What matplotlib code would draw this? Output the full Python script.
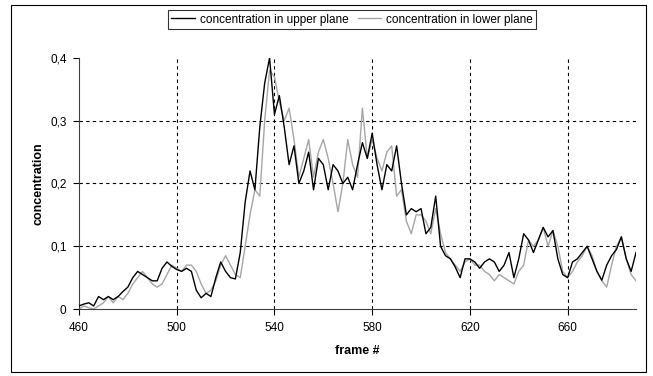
import numpy as np
import matplotlib
matplotlib.use("Agg")
from matplotlib import pyplot as plt
from matplotlib.patches import Rectangle

plt.rcParams['font.family'] = ['Liberation Sans', 'DejaVu Sans']

frames = np.arange(460, 689, 2)

upper = [0.005, 0.008, 0.01, 0.005, 0.02, 0.015, 0.02, 0.015, 0.02, 0.028,
         0.035, 0.05, 0.06, 0.055, 0.05, 0.045, 0.045, 0.065, 0.075, 0.068,
         0.063, 0.06, 0.065, 0.06, 0.03, 0.018, 0.025, 0.02, 0.05, 0.075,
         0.06, 0.05, 0.048, 0.09, 0.17, 0.22, 0.19, 0.29, 0.36, 0.40,
         0.31, 0.34, 0.29, 0.23, 0.26, 0.20, 0.22, 0.25, 0.19, 0.24,
         0.23, 0.19, 0.23, 0.22, 0.20, 0.21, 0.19, 0.23, 0.265, 0.24,
         0.28, 0.23, 0.19, 0.23, 0.22, 0.26, 0.20, 0.15, 0.16, 0.155,
         0.16, 0.12, 0.13, 0.18, 0.10, 0.085, 0.08, 0.067, 0.05, 0.08,
         0.08, 0.075, 0.065, 0.075, 0.08, 0.075, 0.06, 0.07, 0.09, 0.05,
         0.08, 0.12, 0.11, 0.09, 0.11, 0.13, 0.115, 0.125, 0.08, 0.055,
         0.05, 0.075, 0.08, 0.09, 0.10, 0.08, 0.06, 0.046, 0.07, 0.085,
         0.095, 0.115, 0.08, 0.06, 0.09]

lower = [0.0, 0.005, 0.002, 0.0, 0.005, 0.01, 0.02, 0.01, 0.02, 0.015,
         0.025, 0.04, 0.05, 0.06, 0.05, 0.04, 0.035, 0.04, 0.055, 0.07,
         0.065, 0.06, 0.07, 0.07, 0.06, 0.04, 0.025, 0.03, 0.045, 0.07,
         0.085, 0.07, 0.055, 0.05, 0.10, 0.15, 0.19, 0.18, 0.30, 0.38,
         0.37, 0.33, 0.30, 0.32, 0.27, 0.21, 0.24, 0.27, 0.21, 0.25,
         0.27, 0.24, 0.20, 0.155, 0.20, 0.27, 0.23, 0.21, 0.32, 0.24,
         0.27, 0.24, 0.22, 0.25, 0.26, 0.18, 0.19, 0.14, 0.12, 0.15,
         0.15, 0.14, 0.12, 0.16, 0.12, 0.09, 0.08, 0.07, 0.06, 0.075,
         0.08, 0.07, 0.07, 0.06, 0.055, 0.045, 0.055, 0.05, 0.045, 0.04,
         0.06, 0.07, 0.11, 0.10, 0.11, 0.13, 0.10, 0.125, 0.10, 0.06,
         0.05, 0.06, 0.075, 0.085, 0.10, 0.085, 0.06, 0.045, 0.035, 0.07,
         0.10, 0.115, 0.08, 0.055, 0.045]

x_ticks = [460, 500, 540, 580, 620, 660]
y_ticks = [0, 0.1, 0.2, 0.3, 0.4]
y_labels = ['0', '0,1', '0,2', '0,3', '0,4']

fig = plt.figure(figsize=(6.53, 3.76), dpi=100)
ax = fig.add_axes([0.121, 0.178, 0.853, 0.668])

# dashed grid, not at the axis edges
for xv in x_ticks[1:]:
    ax.axvline(xv, color='black', lw=0.8, ls=(0, (3, 3)), zorder=1)
for yv in y_ticks[1:-1]:
    ax.axhline(yv, color='black', lw=0.8, ls=(0, (3, 3)), zorder=1)

ax.plot(frames, upper, color='black', lw=1.0, label='concentration in upper plane', zorder=3)
ax.plot(frames, lower, color='#a6a6a6', lw=1.0, label='concentration in lower plane', zorder=2)

ax.set_xlim(460, 688)
ax.set_ylim(0, 0.4)
ax.set_xticks(x_ticks)
ax.set_yticks(y_ticks)
ax.set_yticklabels(y_labels)
ax.tick_params(labelsize=8.5, length=4, width=0.8, pad=5)
ax.spines['top'].set_visible(False)
ax.spines['right'].set_visible(False)
ax.spines['left'].set_color('#404040')
ax.spines['bottom'].set_color('#404040')

ax.set_xlabel('frame #', fontsize=9, fontweight='bold', labelpad=8)
ax.set_ylabel('concentration', fontsize=9, fontweight='bold', labelpad=4)

leg = fig.legend(loc='center', bbox_to_anchor=(0.539, 0.948), ncol=2, fontsize=8.5,
                 frameon=True, fancybox=False, edgecolor='black', handlelength=2.0,
                 columnspacing=0.8, handletextpad=0.4, borderpad=0.3)
leg.get_frame().set_linewidth(0.8)

fig.patches.append(Rectangle((0.017, 0.011), 0.972, 0.976, transform=fig.transFigure,
                             fill=False, edgecolor='black', lw=0.8))

fig.savefig('out.png', dpi=100)
